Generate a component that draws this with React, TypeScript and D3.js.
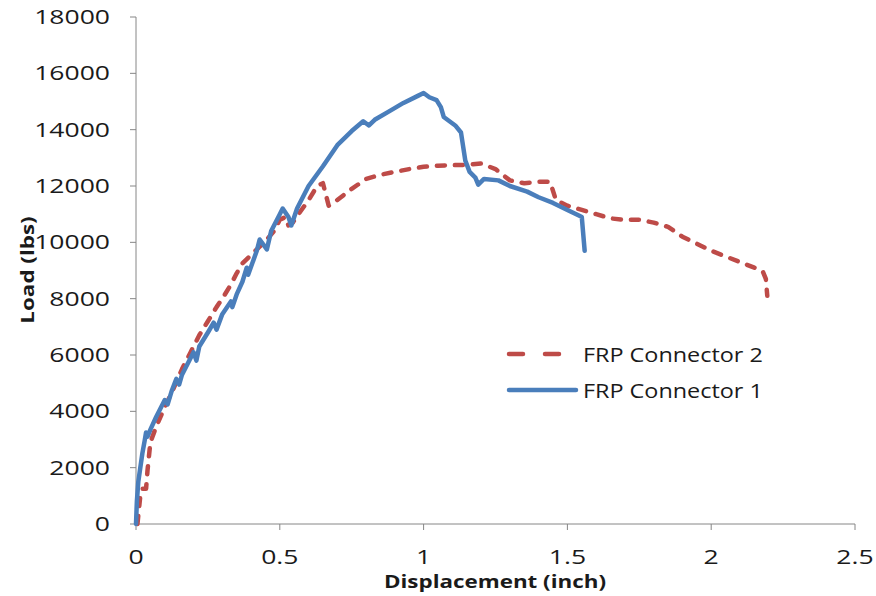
import React, { useEffect, useRef } from "react";
import * as d3 from "d3";

// FRP Connector 1 (solid blue)
const disp1 = [0, 0.003, 0.008, 0.015, 0.022, 0.03, 0.035, 0.04, 0.05, 0.07, 0.085, 0.1, 0.11, 0.125, 0.14, 0.15, 0.16, 0.18, 0.2, 0.21, 0.22, 0.25, 0.27, 0.28, 0.3, 0.33, 0.335, 0.35, 0.37, 0.385, 0.39, 0.42, 0.43, 0.455, 0.47, 0.5, 0.51, 0.53, 0.54, 0.56, 0.6, 0.65, 0.7, 0.75, 0.79, 0.81, 0.83, 0.88, 0.93, 0.98, 1.0, 1.02, 1.045, 1.06, 1.07, 1.09, 1.11, 1.13, 1.145, 1.16, 1.18, 1.19, 1.21, 1.26, 1.3, 1.36, 1.4, 1.45, 1.5, 1.54, 1.55, 1.56];
const load1 = [0, 800, 1500, 2000, 2500, 2950, 3250, 3100, 3350, 3800, 4100, 4400, 4250, 4750, 5150, 4950, 5300, 5700, 6100, 5800, 6300, 6800, 7150, 6900, 7450, 7900, 7700, 8150, 8600, 9100, 8850, 9700, 10100, 9750, 10400, 11000, 11200, 10900, 10600, 11200, 12000, 12700, 13450, 13950, 14300, 14150, 14350, 14650, 14950, 15200, 15300, 15150, 15050, 14800, 14450, 14300, 14150, 13900, 12900, 12500, 12300, 12050, 12250, 12200, 12000, 11800, 11600, 11400, 11150, 10950, 10900, 9700];

// FRP Connector 2 (dashed red)
const disp2 = [0.005, 0.01, 0.015, 0.022, 0.035, 0.04, 0.045, 0.05, 0.07, 0.1, 0.13, 0.16, 0.19, 0.22, 0.25, 0.28, 0.3, 0.33, 0.35, 0.37, 0.4, 0.43, 0.455, 0.48, 0.5, 0.52, 0.53, 0.545, 0.565, 0.6, 0.63, 0.65, 0.67, 0.7, 0.75, 0.8, 0.85, 0.9, 0.95, 1.0, 1.05, 1.1, 1.15, 1.2, 1.25, 1.3, 1.35, 1.4, 1.44, 1.46, 1.5, 1.55, 1.6, 1.65, 1.7, 1.75, 1.8, 1.85, 1.9, 1.95, 2.0, 2.05, 2.1, 2.15, 2.18, 2.19, 2.195];
const load2 = [0, 500, 1000, 1250, 1250, 1900, 2400, 2900, 3450, 4150, 4800, 5500, 6100, 6700, 7200, 7700, 8000, 8500, 8900, 9250, 9550, 9850, 10100, 10400, 10800, 10900, 10600, 10700, 11000, 11500, 12000, 12100, 11300, 11500, 11900, 12250, 12400, 12500, 12600, 12680, 12720, 12740, 12750, 12800, 12600, 12200, 12100, 12150, 12150, 11500, 11300, 11150, 11000, 10850, 10800, 10800, 10700, 10550, 10200, 9950, 9700, 9500, 9300, 9100, 8950, 8700, 8100];

const xTicks = [0, 0.5, 1, 1.5, 2, 2.5];
const yTicks = [0, 2000, 4000, 6000, 8000, 10000, 12000, 14000, 16000, 18000];

const BLUE = "#4a7ebb";
const RED = "#be4b48";
const AXIS = "#868686";
const INK = "#1a1a1a";
const FONT = "'Open Sans', sans-serif";

export default function App() {
  const ref = useRef<SVGSVGElement>(null);

  useEffect(() => {
    const svg = d3.select(ref.current);
    svg.selectAll("*").remove();

    const x = d3.scaleLinear().domain([0, 2.5]).range([136, 855]);
    const y = d3.scaleLinear().domain([0, 18000]).range([524, 17]);

    const label = (
      px: number,
      py: number,
      txt: string,
      anchor: string,
      size: number,
      sx: number,
      weight = "normal",
      rotate = 0
    ) => {
      svg
        .append("g")
        .attr("transform", `translate(${px},${py}) rotate(${rotate}) scale(${sx},1)`)
        .append("text")
        .attr("text-anchor", anchor)
        .attr("font-family", FONT)
        .attr("font-size", size)
        .attr("font-weight", weight)
        .attr("fill", INK)
        .text(txt);
    };

    // axes
    svg.append("line").attr("x1", x(0)).attr("x2", x(0)).attr("y1", y(18000)).attr("y2", y(0)).attr("stroke", AXIS);
    svg.append("line").attr("x1", x(0)).attr("x2", x(2.5)).attr("y1", y(0)).attr("y2", y(0)).attr("stroke", AXIS);

    yTicks.forEach((t) => {
      svg.append("line").attr("x1", x(0) - 6).attr("x2", x(0)).attr("y1", y(t)).attr("y2", y(t)).attr("stroke", AXIS);
      label(110, y(t) + 7, String(t), "end", 19.5, 1.36);
    });
    xTicks.forEach((t) => {
      svg.append("line").attr("x1", x(t)).attr("x2", x(t)).attr("y1", y(0)).attr("y2", y(0) + 6).attr("stroke", AXIS);
      label(x(t), 564, String(t), "middle", 19.5, 1.36);
    });

    label(495, 588, "Displacement (inch)", "middle", 17.5, 1.28, "bold");
    label(34, 270, "Load (lbs)", "middle", 17.5, 1.28, "bold", -90);

    const line = d3
      .line<[number, number]>()
      .x((d) => x(d[0]))
      .y((d) => y(d[1]));

    const s2 = disp2.map((d, i) => [d, load2[i]] as [number, number]);
    const s1 = disp1.map((d, i) => [d, load1[i]] as [number, number]);

    svg
      .append("path")
      .attr("d", line(s2))
      .attr("fill", "none")
      .attr("stroke", RED)
      .attr("stroke-width", 4.5)
      .attr("stroke-linecap", "round")
      .attr("stroke-linejoin", "round")
      .attr("stroke-dasharray", "8,10");

    svg
      .append("path")
      .attr("d", line(s1))
      .attr("fill", "none")
      .attr("stroke", BLUE)
      .attr("stroke-width", 4.5)
      .attr("stroke-linecap", "round")
      .attr("stroke-linejoin", "round");

    // legend
    svg.append("line").attr("x1", 509).attr("x2", 562).attr("y1", 354).attr("y2", 354)
      .attr("stroke", RED).attr("stroke-width", 4.5).attr("stroke-linecap", "round").attr("stroke-dasharray", "14,22");
    svg.append("line").attr("x1", 509).attr("x2", 576).attr("y1", 390).attr("y2", 390)
      .attr("stroke", BLUE).attr("stroke-width", 4.5).attr("stroke-linecap", "round");
    label(583, 362, "FRP Connector 2", "start", 19.5, 1.2);
    label(583, 398, "FRP Connector 1", "start", 19.5, 1.2);
  }, []);

  return (
    <svg
      ref={ref}
      width={876}
      height={596}
      style={{ position: "absolute", left: 0, top: 0, background: "#fff" }}
    />
  );
}
